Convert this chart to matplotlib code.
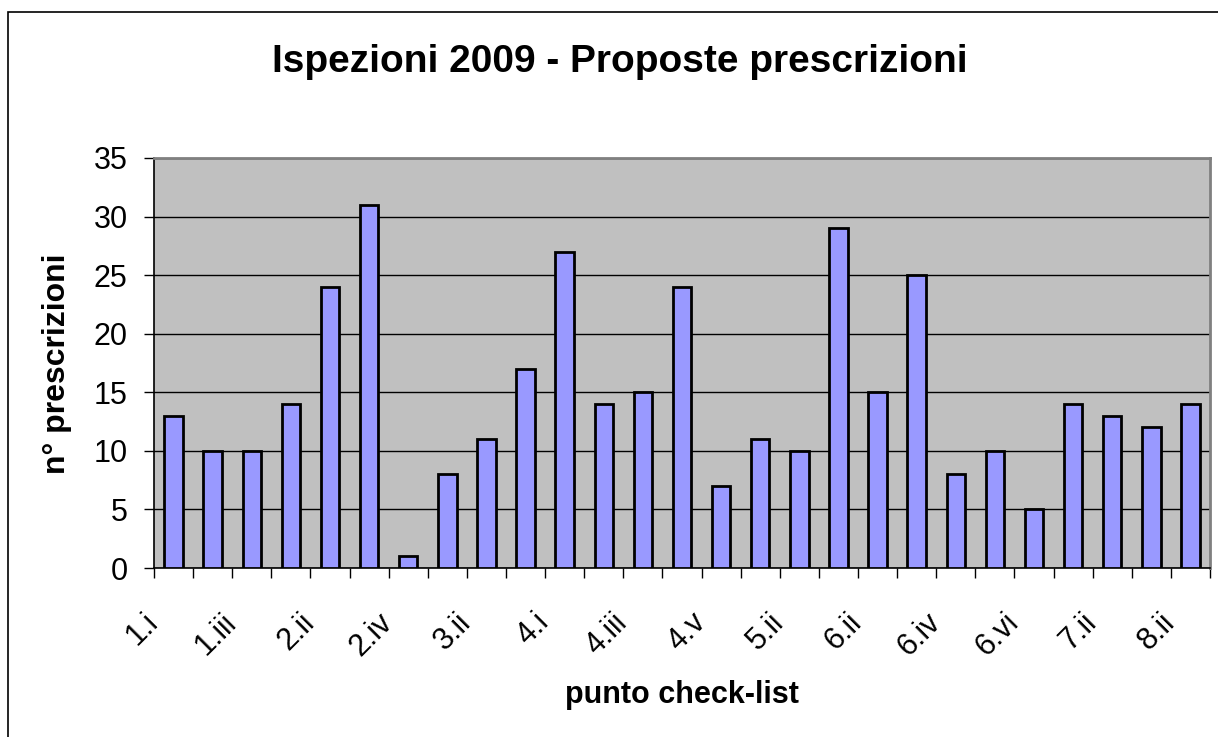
import matplotlib
matplotlib.use('Agg')
import matplotlib.pyplot as plt
import matplotlib.patches as mpatches
import matplotlib.transforms as mtransforms
import numpy as np

plt.rcParams['font.family'] = ['Liberation Sans', 'DejaVu Sans']

# Data
categories = [
    "1.i", "1.ii", "1.iii", "2.i", "2.ii", "2.iii", "2.iv", "3.i", "3.ii",
    "3.iii", "4.i", "4.ii", "4.iii", "4.iv", "4.v", "5.i", "5.ii", "6.i",
    "6.ii", "6.iii", "6.iv", "6.v", "6.vi", "7.i", "7.ii", "8.i", "8.ii",
]
prescrizioni = [
    13, 10, 10, 14, 24, 31, 1, 8, 11,
    17, 27, 14, 15, 24, 7, 11, 10, 29,
    15, 25, 8, 10, 5, 14, 13, 12, 14,
]
y_ticks = [0, 5, 10, 15, 20, 25, 30, 35]

W, H = 1218, 737
fig = plt.figure(figsize=(W / 100, H / 100), dpi=100)
fig.patch.set_facecolor("white")

# outer chart frame (runs off the right/bottom edge like the original)
fig.patches.append(mpatches.Rectangle(
    (8 / W, -0.05), 1.2, 1 - 12 / H + 0.05,
    transform=fig.transFigure, fill=False, edgecolor="black", linewidth=1.2))

left, right, top, bottom = 154, 1210, 158, 568
ax = fig.add_axes([left / W, (H - bottom) / H, (right - left) / W, (bottom - top) / H])
ax.set_facecolor("#C0C0C0")

x = np.arange(len(categories))
ax.bar(x, prescrizioni, width=0.47, color="#9999FF", edgecolor="black",
       linewidth=2, zorder=3)

ax.set_xlim(-0.5, len(categories) - 0.5)
ax.set_ylim(0, 35)
ax.set_yticks(y_ticks)
ax.set_yticklabels([str(t) for t in y_ticks], fontsize=22)
ax.yaxis.grid(True, color="black", linewidth=1.0, zorder=1)
ax.set_axisbelow(True)
ax.tick_params(axis="y", direction="out", length=7, width=1, pad=12)

# tick marks at category boundaries, labels on every other bar
ax.set_xticks(np.arange(len(categories) + 1) - 0.5)
ax.set_xticklabels([])
ax.tick_params(axis="x", which="major", direction="out", length=7, width=1)
ax.set_xticks(x[::2], minor=True)
ax.set_xticklabels(categories[::2], minor=True, fontsize=22, rotation=45,
                   ha="right", va="center", rotation_mode="anchor")
ax.tick_params(axis="x", which="minor", length=0, pad=36)
shift = mtransforms.ScaledTranslation(-20 / 100, 0, fig.dpi_scale_trans)
for lbl in ax.get_xticklabels(minor=True):
    lbl.set_transform(lbl.get_transform() + shift)

for side in ("top", "right"):
    ax.spines[side].set_color("#808080")
    ax.spines[side].set_linewidth(2)
for side in ("left", "bottom"):
    ax.spines[side].set_color("black")
    ax.spines[side].set_linewidth(1.2)

fig.text(620 / W, 1 - 62 / H, "Ispezioni 2009 - Proposte prescrizioni",
         ha="center", va="center", fontsize=28, fontweight="bold")
fig.text(57 / W, 1 - 364 / H, "n° prescrizioni", ha="center", va="center",
         rotation=90, fontsize=23, fontweight="bold")
fig.text(682 / W, 1 - 695 / H, "punto check-list", ha="center", va="center",
         fontsize=22, fontweight="bold")

fig.savefig("out.png", dpi=100)
plt.close(fig)
